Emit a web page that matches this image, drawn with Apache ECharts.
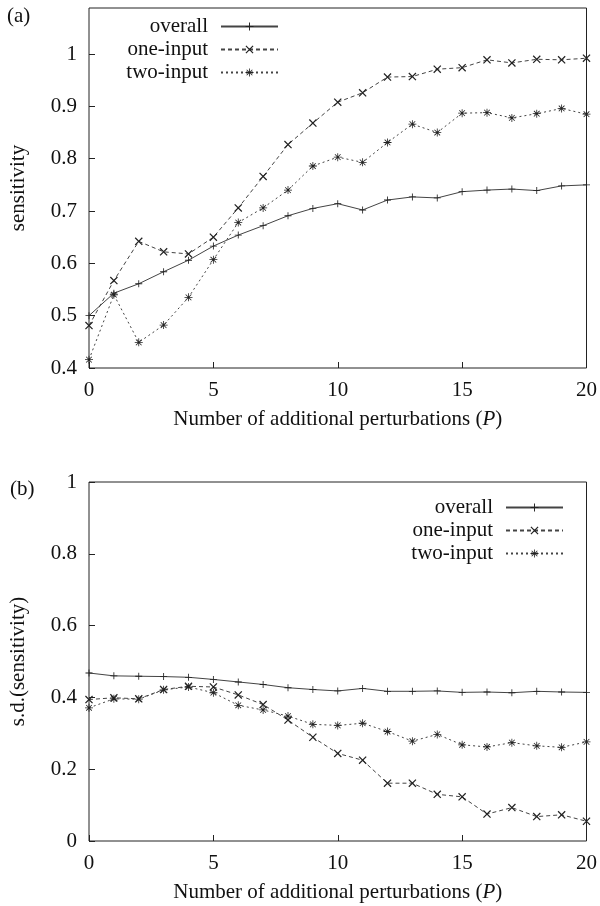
<!DOCTYPE html>
<html>
<head>
<meta charset="utf-8">
<script src="https://cdn.jsdelivr.net/npm/echarts@6/dist/echarts.min.js"></script>
<style>html,body{margin:0;padding:0;background:#fff}#c{width:600px;height:906px}</style>
</head>
<body>
<div id="c"></div>
<script>
const P = [0,1,2,3,4,5,6,7,8,9,10,11,12,13,14,15,16,17,18,19,20];
const seriesNames = ['overall','one-input','two-input'];
const overallA = [0.500,0.543,0.561,0.584,0.606,0.633,0.654,0.672,0.691,0.705,0.714,0.702,0.721,0.727,0.725,0.737,0.740,0.742,0.739,0.748,0.750];
const oneA = [0.481,0.567,0.642,0.622,0.618,0.650,0.706,0.766,0.827,0.868,0.908,0.926,0.956,0.957,0.971,0.974,0.989,0.983,0.990,0.989,0.992];
const twoA = [0.416,0.540,0.449,0.482,0.535,0.607,0.678,0.706,0.740,0.786,0.803,0.793,0.831,0.866,0.850,0.887,0.888,0.878,0.886,0.896,0.885];
const overallB = [0.468,0.460,0.459,0.458,0.456,0.450,0.443,0.436,0.427,0.422,0.418,0.425,0.417,0.417,0.418,0.414,0.415,0.413,0.417,0.415,0.414];
const oneB = [0.394,0.399,0.396,0.422,0.431,0.429,0.407,0.380,0.337,0.289,0.244,0.225,0.161,0.161,0.130,0.123,0.075,0.093,0.068,0.073,0.055];
const twoB = [0.371,0.396,0.395,0.421,0.429,0.413,0.378,0.365,0.348,0.325,0.322,0.328,0.305,0.278,0.297,0.268,0.262,0.274,0.265,0.261,0.276];
const xTicks = [0,5,10,15,20];
const yTicksA = [0.4,0.5,0.6,0.7,0.8,0.9,1];
const yTicksB = [0,0.2,0.4,0.6,0.8,1];
const xTitle = 'Number of additional perturbations ({i|P})';
const yTitleA = 'sensitivity';
const yTitleB = 's.d.(sensitivity)';

const FONT = 'Liberation Serif';
const FS = 21;
const PLUS = 'path://M-0.12,-1 L0.12,-1 L0.12,1 L-0.12,1 Z M-1,-0.12 L1,-0.12 L1,0.12 L-1,0.12 Z';
const CROSS = 'path://M-0.615,-0.785 L0.785,0.615 L0.615,0.785 L-0.785,-0.615 Z M0.785,-0.615 L-0.615,0.785 L-0.785,0.615 L0.615,-0.785 Z';
const STAR = 'path://M-0.1,-1 L0.1,-1 L0.1,1 L-0.1,1 Z M-1,-0.1 L1,-0.1 L1,0.1 L-1,0.1 Z M-0.64,-0.78 L0.78,0.64 L0.64,0.78 L-0.78,-0.64 Z M0.78,-0.64 L-0.64,0.78 L-0.78,0.64 L0.64,-0.78 Z';
const styles = [
  {symbol: PLUS, size: 7, dash: 'solid'},
  {symbol: CROSS, size: 8, dash: [4,3]},
  {symbol: STAR, size: 8, dash: [2,3]}
];

function near(v, arr){ return arr.some(t => Math.abs(t - v) < 1e-6); }

function makeSeries(arrs, gi){
  return arrs.map((arr, k) => ({
    name: seriesNames[k], type: 'line',
    xAxisIndex: gi, yAxisIndex: gi,
    data: P.map((p, i) => [p, arr[i]]),
    symbol: styles[k].symbol, symbolSize: styles[k].size,
    showSymbol: true,
    lineStyle: {color: '#444', width: 1, type: styles[k].dash},
    itemStyle: {color: '#222', borderWidth: 0},
    emphasis: {disabled: true},
    animation: false
  }));
}

function xAxis(gi){
  return {
    type: 'value', gridIndex: gi, min: 0, max: 20, interval: 5,
    axisLine: {show: false},
    axisTick: {show: true, inside: true, length: 6, lineStyle: {color: '#222'}},
    axisLabel: {margin: 12, color: '#111', fontFamily: FONT, fontSize: FS,
      formatter: v => near(v, xTicks) ? String(v) : ''},
    splitLine: {show: false},
    name: xTitle, nameLocation: 'middle', nameGap: 41,
    nameTextStyle: {color: '#111', fontFamily: FONT, fontSize: FS,
      rich: {i: {fontStyle: 'italic', fontFamily: FONT, fontSize: FS, color: '#111'}}}
  };
}
function yAxis(gi, min, max, interval, ticks, title){
  return {
    type: 'value', gridIndex: gi, min: min, max: max, interval: interval,
    axisLine: {show: false},
    axisTick: {show: true, inside: true, length: 6, lineStyle: {color: '#222'}},
    axisLabel: {margin: 12, color: '#111', fontFamily: FONT, fontSize: FS,
      showMaxLabel: near(max, ticks),
      formatter: v => near(v, ticks) ? String(+v.toFixed(2)) : ''},
    splitLine: {show: false},
    name: title, nameLocation: 'middle', nameGap: 60, nameRotate: 90,
    nameTextStyle: {color: '#111', fontFamily: FONT, fontSize: FS}
  };
}
function legend(right, top){
  return {
    data: seriesNames, orient: 'vertical', align: 'right',
    right: right, top: top, itemWidth: 57, itemHeight: 10, itemGap: 2,
    selectedMode: false,
    textStyle: {color: '#111', fontFamily: FONT, fontSize: FS, lineHeight: 21, padding: [0, 8, 0, 0]}
  };
}

const chart = echarts.init(document.getElementById('c'), null, {renderer: 'canvas'});
chart.setOption({
  animation: false,
  backgroundColor: '#fff',
  title: [
    {text: '(a)', left: 2, top: 1, textStyle: {fontFamily: FONT, fontSize: FS, fontWeight: 'normal', color: '#111'}},
    {text: '(b)', left: 5, top: 474, textStyle: {fontFamily: FONT, fontSize: FS, fontWeight: 'normal', color: '#111'}}
  ],
  grid: [
    {left: 82, top: 8, width: 507, height: 360, show: true, borderColor: '#222', borderWidth: 1, backgroundColor: 'transparent'},
    {left: 82, top: 482, width: 507, height: 359, show: true, borderColor: '#222', borderWidth: 1, backgroundColor: 'transparent'}
  ],
  legend: [legend(316, 11), legend(31, 492)],
  xAxis: [xAxis(0), xAxis(1)],
  yAxis: [
    yAxis(0, 0.4, 1.088, 0.1, yTicksA, yTitleA),
    yAxis(1, 0, 1, 0.2, yTicksB, yTitleB)
  ],
  series: makeSeries([overallA, oneA, twoA], 0).concat(makeSeries([overallB, oneB, twoB], 1))
});
</script>
</body>
</html>
